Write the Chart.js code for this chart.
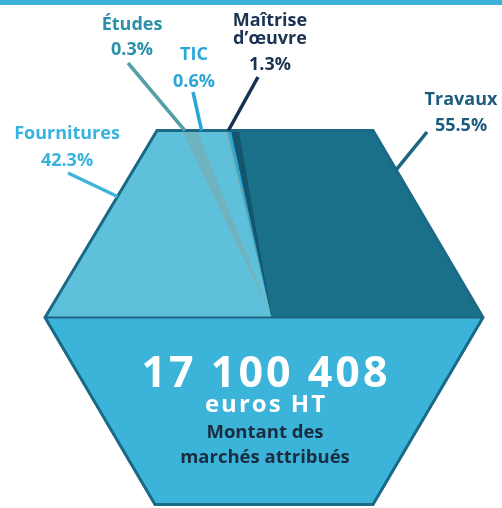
<!DOCTYPE html>
<html lang="fr">
<head>
<meta charset="utf-8">
<title>Montant des marchés attribués</title>
<script src="https://cdn.jsdelivr.net/npm/chart.js@4.4.1/dist/chart.umd.min.js"></script>
<style>
  html, body { margin: 0; padding: 0; background: #fff; }
  #wrap { position: relative; width: 502px; height: 508px; }
  #topBand { position: absolute; left: 0; top: 0; width: 502px; height: 5px; background: #3fb0da; }
</style>
</head>
<body>
<div id="wrap">
  <canvas id="chart" width="502" height="508"></canvas>
  <div id="topBand"></div>
</div>
<script>
  const categories = ['Fournitures', 'Études', 'TIC', 'Maîtrise d’œuvre', 'Travaux'];
  const shares = [42.3, 0.3, 0.6, 1.3, 55.5];
  const totalAmount = '17 100 408';
  const totalUnit = 'euros HT';
  const totalCaption = ['Montant des', 'marchés attribués'];

  const sliceColors = ['#5fc0db', '#7fb0b0', '#2ea8d6', '#15566f', '#1a7089'];
  const labelColors = ['#38b3de', '#2b8fa7', '#2aa7d7', '#1b3352', '#1d5c7d'];
  const lineColors = ['#3db4dc', '#55a0a8', '#2aa6d6', '#14324f', '#1b6580'];

  // hexagon corners, relative to the pie centre
  const hexUpper = [[-227, 0], [-115, -187], [101, -187], [211, 0]];
  const hexLower = [[-227, 0], [211, 0], [101, 187], [-117, 187]];
  const hexRing = [[-227, 0], [-115, -187], [101, -187], [211, 0], [101, 187], [-117, 187]];

  // label placement (text centre x, baselines) and leader line start; nudge shifts the end on the top edge
  const labelLayout = [
    { x: 67, ys: [139, 166], from: [68, 173], nudge: 0 },
    { x: 132, ys: [30, 55], from: [128, 63], nudge: -42 },
    { x: 194, ys: [60, 87], from: [193, 92], nudge: -28 },
    { x: 270, ys: [26, 44, 70], from: [258, 77], nudge: -7 },
    { x: 461, ys: [105, 131], from: [427, 132], nudge: 0 }
  ];

  function labelLines(i) {
    const pct = shares[i].toFixed(1) + '%';
    if (i === 3) return ['Maîtrise', 'd’œuvre', pct];
    return [categories[i], pct];
  }

  function pieCentre(chart) {
    const arc = chart.getDatasetMeta(0).data[0];
    return { x: arc.x, y: arc.y };
  }

  function tracePoly(ctx, c, pts) {
    ctx.beginPath();
    pts.forEach(([dx, dy], i) => {
      if (i === 0) ctx.moveTo(c.x + dx, c.y + dy);
      else ctx.lineTo(c.x + dx, c.y + dy);
    });
    ctx.closePath();
  }

  // where a ray from the centre leaves the upper half of the hexagon
  function rayHit(c, angle) {
    const dx = Math.cos(angle), dy = Math.sin(angle);
    let best = null;
    for (let i = 0; i < hexUpper.length - 1; i++) {
      const [ax, ay] = hexUpper[i], [bx, by] = hexUpper[i + 1];
      const ex = bx - ax, ey = by - ay;
      const den = dx * ey - dy * ex;
      if (Math.abs(den) < 1e-9) continue;
      const t = (ax * ey - ay * ex) / den;
      const u = (ax * dy - ay * dx) / den;
      if (t > 0 && u >= 0 && u <= 1 && (best === null || t < best)) best = t;
    }
    return { x: c.x + dx * best, y: c.y + dy * best };
  }

  const hexPlugin = {
    id: 'hexFrame',
    beforeDatasetsDraw(chart) {
      const ctx = chart.ctx;
      const c = pieCentre(chart);
      ctx.save();
      tracePoly(ctx, c, hexUpper);
      ctx.clip();
    },
    afterDatasetsDraw(chart) {
      const ctx = chart.ctx;
      const c = pieCentre(chart);
      const arcs = chart.getDatasetMeta(0).data;

      // Études stripe seen across Fournitures
      ctx.fillStyle = 'rgba(130,165,155,0.45)';
      ctx.beginPath();
      ctx.moveTo(c.x, c.y);
      ctx.lineTo(c.x - 90, c.y - 187);
      ctx.lineTo(c.x - 75, c.y - 187);
      ctx.closePath();
      ctx.fill();
      ctx.restore();

      ctx.save();
      // lower band
      tracePoly(ctx, c, hexLower);
      ctx.fillStyle = '#3cb3d9';
      ctx.fill();

      // divider and outline
      ctx.strokeStyle = '#1c6680';
      ctx.lineWidth = 2;
      ctx.beginPath();
      ctx.moveTo(c.x - 227, c.y);
      ctx.lineTo(c.x + 211, c.y);
      ctx.stroke();

      ctx.strokeStyle = '#1a6a85';
      ctx.lineWidth = 3;
      ctx.lineJoin = 'miter';
      tracePoly(ctx, c, hexRing);
      ctx.stroke();

      // total in the lower band
      const tx = c.x - 7;
      ctx.textAlign = 'center';
      ctx.textBaseline = 'alphabetic';
      ctx.fillStyle = '#ffffff';
      ctx.font = 'bold 43px "Open Sans"';
      ctx.letterSpacing = '3px';
      ctx.fillText(totalAmount, tx + 1, 387);
      ctx.font = 'bold 24px "Open Sans"';
      ctx.letterSpacing = '2px';
      ctx.fillText(totalUnit, tx + 1, 412);
      ctx.letterSpacing = '0px';
      ctx.fillStyle = '#1b2c3f';
      ctx.font = 'bold 18.5px "Open Sans"';
      ctx.fillText(totalCaption[0], tx, 438);
      ctx.fillText(totalCaption[1], tx, 463);

      // leader lines and labels
      arcs.forEach((arc, i) => {
        const lay = labelLayout[i];
        const mid = (arc.startAngle + arc.endAngle) / 2;
        const end = rayHit(c, mid);
        end.x += lay.nudge;
        ctx.strokeStyle = lineColors[i];
        ctx.lineWidth = 3.5;
        ctx.lineCap = 'butt';
        ctx.beginPath();
        ctx.moveTo(lay.from[0], lay.from[1]);
        ctx.lineTo(end.x, end.y);
        ctx.stroke();

        ctx.fillStyle = labelColors[i];
        ctx.font = 'bold 18px "Open Sans"';
        labelLines(i).forEach((t, k) => ctx.fillText(t, lay.x, lay.ys[k]));
      });
      ctx.restore();
    }
  };

  new Chart(document.getElementById('chart'), {
    type: 'pie',
    data: {
      labels: categories,
      datasets: [{
        data: shares,
        backgroundColor: sliceColors,
        borderColor: sliceColors,
        borderWidth: 1
      }]
    },
    options: {
      responsive: false,
      animation: false,
      rotation: -90,
      circumference: 180,
      layout: { padding: { left: 42, right: 0, top: 88, bottom: 190 } },
      plugins: {
        legend: { display: false },
        tooltip: { enabled: true }
      }
    },
    plugins: [hexPlugin]
  });
</script>
</body>
</html>
